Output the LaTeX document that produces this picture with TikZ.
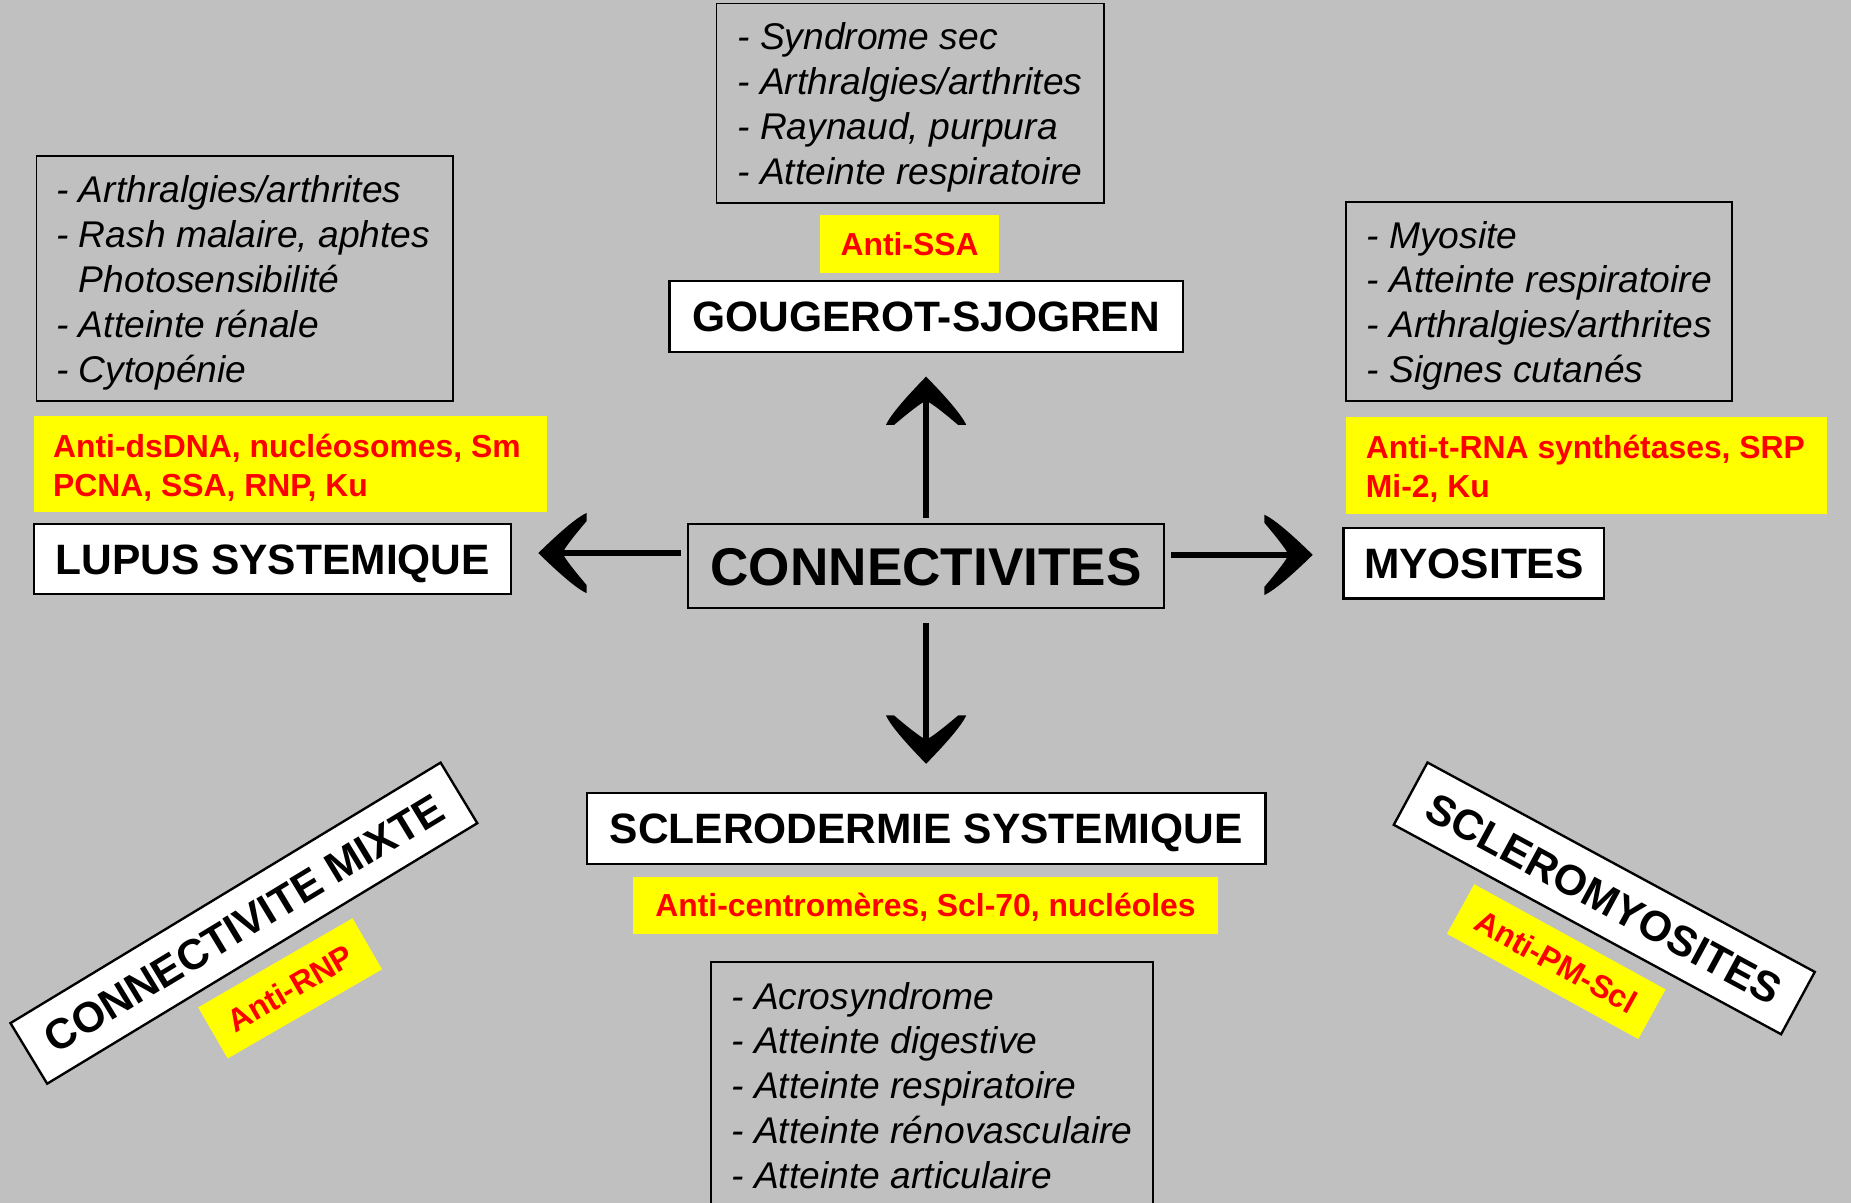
\documentclass[tikz,border=0pt]{standalone}
\usepackage{fontspec}
\setmainfont{Liberation Sans}
\usetikzlibrary{arrows.meta,calc}
\definecolor{bgc}{RGB}{192,192,192}
\definecolor{yel}{RGB}{255,255,0}
\definecolor{redt}{RGB}{255,0,0}
\pgfdeclarearrow{
  name = CBarb,
  setup code = {
    \pgfarrowssettipend{0pt}
    \pgfarrowssetlineend{-10.3pt}
    \pgfarrowssetbackend{-20.5pt}
    \pgfarrowssetvisualbackend{-11pt}
    \pgfarrowsupperhullpoint{0pt}{0pt}
    \pgfarrowsupperhullpoint{-20.5pt}{17pt}
  },
  drawing code = {
    \pgfpathmoveto{\pgfpointorigin}
    \pgfpathcurveto{\pgfpoint{-8pt}{7.8pt}}{\pgfpoint{-16pt}{15pt}}{\pgfpoint{-20.5pt}{17pt}}
    \pgfpathlineto{\pgfpoint{-20.5pt}{13.6pt}}
    \pgfpathcurveto{\pgfpoint{-17pt}{9.5pt}}{\pgfpoint{-12.5pt}{4pt}}{\pgfpoint{-10.9pt}{1.25pt}}
    \pgfpathlineto{\pgfpoint{-10.9pt}{-1.25pt}}
    \pgfpathcurveto{\pgfpoint{-12.5pt}{-4pt}}{\pgfpoint{-17pt}{-9.5pt}}{\pgfpoint{-20.5pt}{-13.6pt}}
    \pgfpathlineto{\pgfpoint{-20.5pt}{-17pt}}
    \pgfpathcurveto{\pgfpoint{-16pt}{-15pt}}{\pgfpoint{-8pt}{-7.8pt}}{\pgfpointorigin}
    \pgfpathclose
    \pgfusepathqfill
  }
}
\begin{document}
\begin{tikzpicture}[x=0.5pt,y=-0.5pt,
  titlebox/.style={draw, fill=white, line width=1pt, inner sep=0pt,
    text height=12.9pt, text depth=0pt,
    font=\fontsize{18pt}{21pt}\selectfont\bfseries},
  listbox/.style={draw, line width=0.75pt, inner sep=0pt},
  listtext/.style={anchor=west, inner sep=0pt, align=left,
    font=\fontsize{15.75pt}{19pt}\selectfont\itshape},
  redtag/.style={fill=yel, text=redt, inner sep=0pt,
    text height=9.7pt, text depth=0pt,
    font=\fontsize{13.5pt}{16.5pt}\selectfont\bfseries},
  redtext/.style={anchor=west, text=redt, inner sep=0pt, align=left,
    font=\fontsize{13.5pt}{16.5pt}\selectfont\bfseries},
  mainarrow/.style={line width=2.5pt, -{CBarb}}]

\fill[bgc] (0,0) rectangle (1568,1019);
\useasboundingbox (0,0) rectangle (1568,1019);

% Gougerot-Sjogren
\node[listbox, minimum width=164pt, minimum height=84.5pt] (gouL) at (771,87.5) {};
\node[listtext] (gouLt) at ([xshift=9pt,yshift=-1.75pt]gouL.west)
  {- Syndrome sec\\- Arthralgies/arthrites\\- Raynaud, purpura\\- Atteinte respiratoire};
\node[redtag, minimum width=75.5pt, minimum height=24.5pt] (gouT) at (770.5,206.5) {Anti-SSA};
\node[titlebox, minimum width=217.5pt, minimum height=30pt] (gou) at (784.5,268) {GOUGEROT-SJOGREN};

% Lupus
\node[listbox, minimum width=176.5pt, minimum height=104pt] (lupL) at (207.5,236) {};
\node[listtext] (lupLt) at ([xshift=8.5pt,yshift=-1.75pt]lupL.west)
  {- Arthralgies/arthrites\\- Rash malaire, aphtes\\\phantom{- }Photosensibilité\\- Atteinte rénale\\- Cytopénie};
\node[fill=yel, inner sep=0pt, minimum width=217pt, minimum height=41pt] (lupT) at (246,393) {};
\node[redtext] (lupTt) at ([xshift=8pt,yshift=-1.5pt]lupT.west)
  {Anti-dsDNA, nucléosomes, Sm\\PCNA, SSA, RNP, Ku};
\node[titlebox, minimum width=202pt, minimum height=29.5pt] (lup) at (231,473.5) {LUPUS SYSTEMIQUE};

% Centre
\node[draw, line width=1pt, inner sep=0pt, minimum width=201.5pt, minimum height=35.5pt,
  text height=16.1pt, text depth=0pt,
  font=\fontsize{22.5pt}{27pt}\selectfont\bfseries] (conn) at (784.5,479.5) {CONNECTIVITES};

% Myosites
\node[listbox, minimum width=163.5pt, minimum height=84.5pt] (myoL) at (1303.5,255.5) {};
\node[listtext] (myoLt) at ([xshift=9pt,yshift=-1.75pt]myoL.west)
  {- Myosite\\- Atteinte respiratoire\\- Arthralgies/arthrites\\- Signes cutanés};
\node[fill=yel, inner sep=0pt, minimum width=204pt, minimum height=41pt] (myoT) at (1344,394) {};
\node[redtext] (myoTt) at ([xshift=8.5pt,yshift=-1.5pt]myoT.west)
  {Anti-t-RNA synthétases, SRP\\Mi-2, Ku};
\node[titlebox, minimum width=110.5pt, minimum height=30pt] (myo) at (1248.5,477) {MYOSITES};

% Sclerodermie
\node[titlebox, minimum width=287.5pt, minimum height=30pt] (scl) at (784.5,702) {SCLERODERMIE SYSTEMIQUE};
\node[redtag, minimum width=248pt, minimum height=24pt] (sclT) at (784,767) {Anti-centromères, Scl-70, nucléoles};
\node[listbox, minimum width=187.5pt, minimum height=103.5pt] (sclL) at (789.5,918.5) {};
\node[listtext] (sclLt) at ([xshift=9pt,yshift=-0.5pt]sclL.west)
  {- Acrosyndrome\\- Atteinte digestive\\- Atteinte respiratoire\\- Atteinte rénovasculaire\\- Atteinte articulaire};

% Rotated boxes
\node[titlebox, rotate=31.2, minimum width=213pt, minimum height=30pt] (mix) at (206.6,782) {CONNECTIVITE MIXTE};
\node[redtag, rotate=30, minimum width=75.5pt, minimum height=25pt] (mixT) at (245.75,837.25) {Anti-RNP};
\node[titlebox, rotate=-28.4, minimum width=186.5pt, minimum height=30pt] (scm) at (1359,761) {SCLEROMYOSITES};
\node[redtag, rotate=-28.8, minimum width=92.5pt, minimum height=24pt] (scmT) at (1318.3,814.6) {Anti-PM-Scl};

% Arrows
\coordinate (la) at ([xshift=-2.5pt,yshift=5.5pt]conn.west);
\coordinate (ra) at ([xshift=2.5pt,yshift=4.75pt]conn.east);
\draw[mainarrow] ([yshift=2pt]conn.north) -- ([yshift=-10pt]gou.south);
\draw[mainarrow] ([yshift=-6pt]conn.south) -- ([yshift=12pt]scl.north);
\draw[mainarrow] (la) -- ($(la -| lup.east)+(11pt,0)$);
\draw[mainarrow] (ra) -- ($(ra -| myo.west)+(-12.5pt,0)$);
\end{tikzpicture}
\end{document}
